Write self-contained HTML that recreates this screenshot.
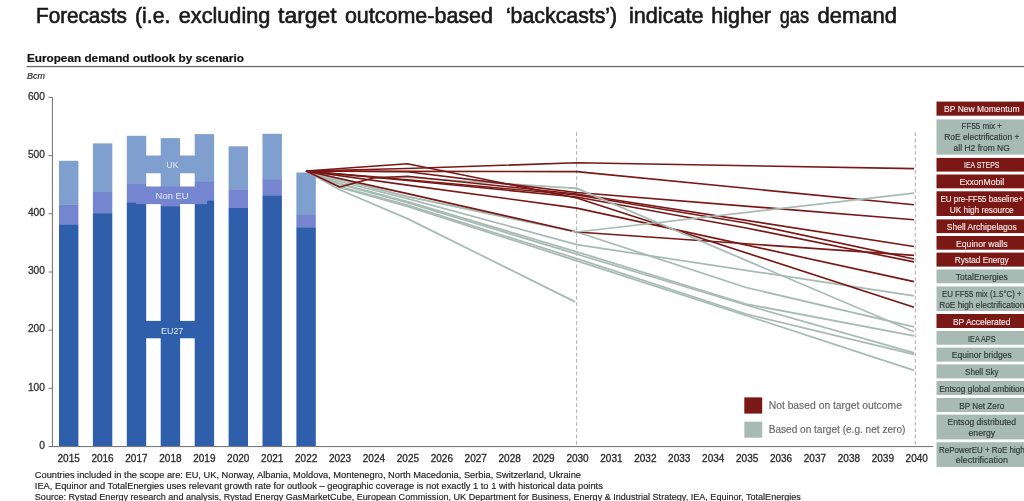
<!DOCTYPE html>
<html lang="en"><head><meta charset="utf-8"><title>European demand outlook by scenario</title>
<style>html,body{margin:0;padding:0;background:#fff;}body{width:1024px;height:501px;overflow:hidden;}svg{display:block;font-family:"Liberation Sans", sans-serif;}.yl{font-size:10px;fill:#333;stroke:#333;stroke-width:0.3px;}.xl{font-size:10.1px;fill:#2b2b2b;stroke:#2b2b2b;stroke-width:0.3px;}.bx{font-size:8.7px;}.ft{font-size:8.6px;fill:#1c1c1c;stroke:#1c1c1c;stroke-width:0.15px;}.lg{font-size:10px;fill:#666;stroke:#666;stroke-width:0.15px;}.bl{font-size:9.5px;fill:#e4eaf4;}</style></head><body>
<svg width="1024" height="501" viewBox="0 0 1024 501">
<rect x="0" y="0" width="1024" height="501" fill="#ffffff"/>
<g font-size="22.2" fill="#1a1a1a" stroke="#1a1a1a" stroke-width="0.65">
<text x="36.0" y="22.6" textLength="90.8" lengthAdjust="spacingAndGlyphs">Forecasts</text>
<text x="135.0" y="22.6" textLength="35.3" lengthAdjust="spacingAndGlyphs">(i.e.</text>
<text x="178.8" y="22.6" textLength="91.5" lengthAdjust="spacingAndGlyphs">excluding</text>
<text x="278.1" y="22.6" textLength="58.6" lengthAdjust="spacingAndGlyphs">target</text>
<text x="344.9" y="22.6" textLength="148.1" lengthAdjust="spacingAndGlyphs">outcome-based</text>
<text x="505.9" y="22.6" textLength="111.3" lengthAdjust="spacingAndGlyphs">‘backcasts’)</text>
<text x="629.0" y="22.6" textLength="74.5" lengthAdjust="spacingAndGlyphs">indicate</text>
<text x="711.3" y="22.6" textLength="59.7" lengthAdjust="spacingAndGlyphs">higher</text>
<text x="779.7" y="22.6" textLength="29.3" lengthAdjust="spacingAndGlyphs">gas</text>
<text x="817.6" y="22.6" textLength="79.4" lengthAdjust="spacingAndGlyphs">demand</text>
</g>
<text x="26.9" y="62.2" font-size="11.7" font-weight="bold" fill="#111" stroke="#111" stroke-width="0.2" textLength="217" lengthAdjust="spacingAndGlyphs">European demand outlook by scenario</text>
<rect x="26.5" y="65.9" width="997.5" height="1.3" fill="#6a6a6a"/>
<text x="27" y="78.8" font-size="9.6" font-style="italic" fill="#222" stroke="#222" stroke-width="0.15" textLength="18" lengthAdjust="spacingAndGlyphs">Bcm</text>
<line x1="576.6" y1="132.2" x2="576.6" y2="446" stroke="#999" stroke-width="0.8" stroke-dasharray="3.8 2.5"/>
<line x1="915.3" y1="132.2" x2="915.3" y2="446" stroke="#999" stroke-width="0.8" stroke-dasharray="3.8 2.5"/>
<rect x="59.0" y="160.8" width="19.4" height="43.9" fill="#7f9fcf"/>
<rect x="59.0" y="204.5" width="19.4" height="20.7" fill="#7585d0"/>
<rect x="59.0" y="224.8" width="19.4" height="221.7" fill="#2f5fab"/>
<rect x="92.9" y="143.4" width="19.4" height="48.9" fill="#7f9fcf"/>
<rect x="92.9" y="192.0" width="19.4" height="21.5" fill="#7585d0"/>
<rect x="92.9" y="213.2" width="19.4" height="233.3" fill="#2f5fab"/>
<rect x="126.8" y="135.8" width="19.4" height="48.0" fill="#7f9fcf"/>
<rect x="126.8" y="183.5" width="19.4" height="19.5" fill="#7585d0"/>
<rect x="126.8" y="202.7" width="19.4" height="243.8" fill="#2f5fab"/>
<rect x="160.7" y="138.1" width="19.4" height="48.6" fill="#7f9fcf"/>
<rect x="160.7" y="186.4" width="19.4" height="20.1" fill="#7585d0"/>
<rect x="160.7" y="206.2" width="19.4" height="240.3" fill="#2f5fab"/>
<rect x="194.7" y="134.1" width="19.4" height="48.0" fill="#7f9fcf"/>
<rect x="194.7" y="181.8" width="19.4" height="18.9" fill="#7585d0"/>
<rect x="194.7" y="200.4" width="19.4" height="246.1" fill="#2f5fab"/>
<rect x="228.6" y="146.3" width="19.4" height="43.6" fill="#7f9fcf"/>
<rect x="228.6" y="189.6" width="19.4" height="18.6" fill="#7585d0"/>
<rect x="228.6" y="208.0" width="19.4" height="238.5" fill="#2f5fab"/>
<rect x="262.5" y="133.8" width="19.4" height="45.7" fill="#7f9fcf"/>
<rect x="262.5" y="179.2" width="19.4" height="16.6" fill="#7585d0"/>
<rect x="262.5" y="195.5" width="19.4" height="251.0" fill="#2f5fab"/>
<rect x="296.4" y="172.5" width="19.4" height="42.8" fill="#7f9fcf"/>
<rect x="296.4" y="214.9" width="19.4" height="13.1" fill="#7585d0"/>
<rect x="296.4" y="227.7" width="19.4" height="218.8" fill="#2f5fab"/>
<rect x="145" y="155.5" width="50" height="17.8" fill="#7f9fcf"/>
<rect x="136" y="186.5" width="71.2" height="17.6" fill="#7585d0"/>
<rect x="145" y="320.9" width="50" height="17.4" fill="#2f5fab"/>
<text class="bl" x="166.6" y="167.6" textLength="11.7" lengthAdjust="spacingAndGlyphs">UK</text>
<text class="bl" x="155.6" y="198.5" textLength="33" lengthAdjust="spacingAndGlyphs">Non EU</text>
<text class="bl" x="161" y="333.5" textLength="22.3" lengthAdjust="spacingAndGlyphs">EU27</text>
<g>
<path d="M306.0 171.0 L339.7 189.7 L407.4 218.6 L575.2 301.9" fill="none" stroke="#a7bbb4" stroke-width="1.75" stroke-linejoin="round" stroke-linecap="butt"/>
<path d="M306.0 171.0 L339.7 187.3 L407.4 206.3 L576.8 260.8 L746.1 315.5 L914.0 370.4" fill="none" stroke="#a7bbb4" stroke-width="1.75" stroke-linejoin="round" stroke-linecap="butt"/>
<path d="M306.0 171.0 L339.7 186.6 L407.4 205.2 L576.8 258.6 L746.1 314.0 L914.0 354.4" fill="none" stroke="#a7bbb4" stroke-width="1.75" stroke-linejoin="round" stroke-linecap="butt"/>
<path d="M306.0 171.0 L339.7 184.2 L407.4 202.6 L576.8 254.2 L746.1 305.0 L914.0 352.9" fill="none" stroke="#a7bbb4" stroke-width="1.75" stroke-linejoin="round" stroke-linecap="butt"/>
<path d="M306.0 171.0 L339.7 183.5 L407.4 201.5 L576.8 251.8 L746.1 304.0 L914.0 335.8" fill="none" stroke="#a7bbb4" stroke-width="1.75" stroke-linejoin="round" stroke-linecap="butt"/>
<path d="M306.0 171.0 L339.7 181.5 L407.4 198.6 L576.8 244.6 L914.0 295.8" fill="none" stroke="#a7bbb4" stroke-width="1.75" stroke-linejoin="round" stroke-linecap="butt"/>
<path d="M306.0 171.0 L407.4 196.5 L576.8 232.0 L746.1 287.5 L914.0 326.9" fill="none" stroke="#a7bbb4" stroke-width="1.75" stroke-linejoin="round" stroke-linecap="butt"/>
<path d="M306.0 171.0 L339.7 175.5 L407.4 177.5 L576.8 188.4 L579.8 189.6" fill="none" stroke="#a7bbb4" stroke-width="1.75" stroke-linejoin="round" stroke-linecap="butt"/>
<path d="M306.0 171.0 L407.4 196.5 L576.8 232.0" fill="none" stroke="#a7bbb4" stroke-width="1.75" stroke-linejoin="round" stroke-linecap="butt"/>
<path d="M306.0 171.0 L407.4 193.6 L576.8 232.0 L914.0 255.4" fill="none" stroke="#7a1815" stroke-width="1.65" stroke-linejoin="round" stroke-linecap="butt"/>
<path d="M306.0 171.0 L407.4 185.1 L576.8 208.1 L914.0 281.6" fill="none" stroke="#7a1815" stroke-width="1.65" stroke-linejoin="round" stroke-linecap="butt"/>
<path d="M306.0 171.0 L407.4 163.7 L576.8 198.0 L914.0 307.2" fill="none" stroke="#7a1815" stroke-width="1.65" stroke-linejoin="round" stroke-linecap="butt"/>
<path d="M306.0 171.0 L407.4 180.5 L576.8 197.0 L746.1 228.0 L914.0 261.9" fill="none" stroke="#7a1815" stroke-width="1.65" stroke-linejoin="round" stroke-linecap="butt"/>
<path d="M306.0 171.0 L407.4 179.7 L576.8 195.0 L746.1 223.0 L914.0 259.0" fill="none" stroke="#7a1815" stroke-width="1.65" stroke-linejoin="round" stroke-linecap="butt"/>
<path d="M306.0 171.0 L339.7 187.0 L373.5 178.0 L407.4 176.2 L576.8 194.0 L914.0 246.5" fill="none" stroke="#7a1815" stroke-width="1.65" stroke-linejoin="round" stroke-linecap="butt"/>
<path d="M306.0 171.0 L407.4 171.7 L576.8 192.5 L914.0 219.7" fill="none" stroke="#7a1815" stroke-width="1.65" stroke-linejoin="round" stroke-linecap="butt"/>
<path d="M306.0 171.0 L407.4 171.4 L576.8 171.6 L914.0 204.8" fill="none" stroke="#7a1815" stroke-width="1.65" stroke-linejoin="round" stroke-linecap="butt"/>
<path d="M306.0 171.0 L407.4 168.5 L576.8 162.8 L914.0 168.6" fill="none" stroke="#7a1815" stroke-width="1.65" stroke-linejoin="round" stroke-linecap="butt"/>
<path d="M568.8 187.9 L576.8 188.4 L914.0 331.7" fill="none" stroke="#a7bbb4" stroke-width="1.75" stroke-linejoin="round" stroke-linecap="butt"/>
<path d="M571.8 231.0 L576.8 232.0 L914.0 193.1" fill="none" stroke="#a7bbb4" stroke-width="1.75" stroke-linejoin="round" stroke-linecap="butt"/>
</g>
<rect x="51.9" y="97" width="1.1" height="350" fill="#7a7a7a"/>
<rect x="51.9" y="446" width="881.3" height="1.1" fill="#7a7a7a"/>
<rect x="48.5" y="446.0" width="4" height="1" fill="#7a7a7a"/>
<text class="yl" x="39.2" y="448.8" textLength="5.7" lengthAdjust="spacingAndGlyphs">0</text>
<rect x="48.5" y="387.8" width="4" height="1" fill="#7a7a7a"/>
<text class="yl" x="27.9" y="390.6" textLength="17.0" lengthAdjust="spacingAndGlyphs">100</text>
<rect x="48.5" y="329.6" width="4" height="1" fill="#7a7a7a"/>
<text class="yl" x="27.9" y="332.4" textLength="17.0" lengthAdjust="spacingAndGlyphs">200</text>
<rect x="48.5" y="271.5" width="4" height="1" fill="#7a7a7a"/>
<text class="yl" x="27.9" y="274.3" textLength="17.0" lengthAdjust="spacingAndGlyphs">300</text>
<rect x="48.5" y="213.3" width="4" height="1" fill="#7a7a7a"/>
<text class="yl" x="27.9" y="216.1" textLength="17.0" lengthAdjust="spacingAndGlyphs">400</text>
<rect x="48.5" y="155.1" width="4" height="1" fill="#7a7a7a"/>
<text class="yl" x="27.9" y="157.9" textLength="17.0" lengthAdjust="spacingAndGlyphs">500</text>
<rect x="48.5" y="96.9" width="4" height="1" fill="#7a7a7a"/>
<text class="yl" x="27.9" y="99.7" textLength="17.0" lengthAdjust="spacingAndGlyphs">600</text>
<text class="xl" x="57.5" y="461.6" textLength="22.3" lengthAdjust="spacingAndGlyphs">2015</text>
<text class="xl" x="91.4" y="461.6" textLength="22.3" lengthAdjust="spacingAndGlyphs">2016</text>
<text class="xl" x="125.3" y="461.6" textLength="22.3" lengthAdjust="spacingAndGlyphs">2017</text>
<text class="xl" x="159.3" y="461.6" textLength="22.3" lengthAdjust="spacingAndGlyphs">2018</text>
<text class="xl" x="193.2" y="461.6" textLength="22.3" lengthAdjust="spacingAndGlyphs">2019</text>
<text class="xl" x="227.1" y="461.6" textLength="22.3" lengthAdjust="spacingAndGlyphs">2020</text>
<text class="xl" x="261.1" y="461.6" textLength="22.3" lengthAdjust="spacingAndGlyphs">2021</text>
<text class="xl" x="295.0" y="461.6" textLength="22.3" lengthAdjust="spacingAndGlyphs">2022</text>
<text class="xl" x="328.9" y="461.6" textLength="22.3" lengthAdjust="spacingAndGlyphs">2023</text>
<text class="xl" x="362.8" y="461.6" textLength="22.3" lengthAdjust="spacingAndGlyphs">2024</text>
<text class="xl" x="396.8" y="461.6" textLength="22.3" lengthAdjust="spacingAndGlyphs">2025</text>
<text class="xl" x="430.7" y="461.6" textLength="22.3" lengthAdjust="spacingAndGlyphs">2026</text>
<text class="xl" x="464.6" y="461.6" textLength="22.3" lengthAdjust="spacingAndGlyphs">2027</text>
<text class="xl" x="498.5" y="461.6" textLength="22.3" lengthAdjust="spacingAndGlyphs">2028</text>
<text class="xl" x="532.4" y="461.6" textLength="22.3" lengthAdjust="spacingAndGlyphs">2029</text>
<text class="xl" x="566.4" y="461.6" textLength="22.3" lengthAdjust="spacingAndGlyphs">2030</text>
<text class="xl" x="600.3" y="461.6" textLength="22.3" lengthAdjust="spacingAndGlyphs">2031</text>
<text class="xl" x="634.2" y="461.6" textLength="22.3" lengthAdjust="spacingAndGlyphs">2032</text>
<text class="xl" x="668.1" y="461.6" textLength="22.3" lengthAdjust="spacingAndGlyphs">2033</text>
<text class="xl" x="702.1" y="461.6" textLength="22.3" lengthAdjust="spacingAndGlyphs">2034</text>
<text class="xl" x="736.0" y="461.6" textLength="22.3" lengthAdjust="spacingAndGlyphs">2035</text>
<text class="xl" x="769.9" y="461.6" textLength="22.3" lengthAdjust="spacingAndGlyphs">2036</text>
<text class="xl" x="803.8" y="461.6" textLength="22.3" lengthAdjust="spacingAndGlyphs">2037</text>
<text class="xl" x="837.8" y="461.6" textLength="22.3" lengthAdjust="spacingAndGlyphs">2038</text>
<text class="xl" x="871.7" y="461.6" textLength="22.3" lengthAdjust="spacingAndGlyphs">2039</text>
<text class="xl" x="905.6" y="461.6" textLength="22.3" lengthAdjust="spacingAndGlyphs">2040</text>
<rect x="744.3" y="397.4" width="17.9" height="16.2" fill="#7a1815"/>
<rect x="744.3" y="421.7" width="17.9" height="16" fill="#a7bbb4"/>
<text class="lg" x="768.7" y="408.7" textLength="133.2" lengthAdjust="spacingAndGlyphs">Not based on target outcome</text>
<text class="lg" x="768.7" y="432.8" textLength="136.7" lengthAdjust="spacingAndGlyphs">Based on target (e.g. net zero)</text>
<rect x="936.5" y="101.6" width="91.5" height="14.1" fill="#7a1815"/>
<text class="bx" x="944.1" y="112.4" fill="#f1e9e7" stroke="#f1e9e7" stroke-width="0.15" textLength="75.4" lengthAdjust="spacingAndGlyphs">BP New Momentum</text>
<rect x="936.5" y="119.4" width="91.5" height="35.2" fill="#a7bbb4"/>
<text class="bx" x="961.6" y="129.2" fill="#2f3635" stroke="#2f3635" stroke-width="0.15" textLength="40.3" lengthAdjust="spacingAndGlyphs">FF55 mix +</text>
<text class="bx" x="944.2" y="140.0" fill="#2f3635" stroke="#2f3635" stroke-width="0.15" textLength="75.2" lengthAdjust="spacingAndGlyphs">RoE electrification +</text>
<text class="bx" x="953.6" y="150.8" fill="#2f3635" stroke="#2f3635" stroke-width="0.15" textLength="56.3" lengthAdjust="spacingAndGlyphs">all H2 from NG</text>
<rect x="936.5" y="157.9" width="91.5" height="13.7" fill="#7a1815"/>
<text class="bx" x="964.0" y="168.4" fill="#f1e9e7" stroke="#f1e9e7" stroke-width="0.15" textLength="35.5" lengthAdjust="spacingAndGlyphs">IEA STEPS</text>
<rect x="936.5" y="174.5" width="91.5" height="13.8" fill="#7a1815"/>
<text class="bx" x="959.4" y="185.1" fill="#f1e9e7" stroke="#f1e9e7" stroke-width="0.15" textLength="44.7" lengthAdjust="spacingAndGlyphs">ExxonMobil</text>
<rect x="936.5" y="191.3" width="91.5" height="24.7" fill="#7a1815"/>
<text class="bx" x="940.4" y="201.7" fill="#f1e9e7" stroke="#f1e9e7" stroke-width="0.15" textLength="82.8" lengthAdjust="spacingAndGlyphs">EU pre-FF55 baseline+</text>
<text class="bx" x="949.8" y="212.5" fill="#f1e9e7" stroke="#f1e9e7" stroke-width="0.15" textLength="63.9" lengthAdjust="spacingAndGlyphs">UK high resource</text>
<rect x="936.5" y="219.4" width="91.5" height="13.7" fill="#7a1815"/>
<text class="bx" x="946.8" y="229.9" fill="#f1e9e7" stroke="#f1e9e7" stroke-width="0.15" textLength="69.9" lengthAdjust="spacingAndGlyphs">Shell Archipelagos</text>
<rect x="936.5" y="236.0" width="91.5" height="13.7" fill="#7a1815"/>
<text class="bx" x="956.0" y="246.5" fill="#f1e9e7" stroke="#f1e9e7" stroke-width="0.15" textLength="51.5" lengthAdjust="spacingAndGlyphs">Equinor walls</text>
<rect x="936.5" y="252.6" width="91.5" height="14.0" fill="#7a1815"/>
<text class="bx" x="954.8" y="263.3" fill="#f1e9e7" stroke="#f1e9e7" stroke-width="0.15" textLength="53.9" lengthAdjust="spacingAndGlyphs">Rystad Energy</text>
<rect x="936.5" y="269.4" width="91.5" height="13.9" fill="#a7bbb4"/>
<text class="bx" x="955.8" y="280.1" fill="#2f3635" stroke="#2f3635" stroke-width="0.15" textLength="51.9" lengthAdjust="spacingAndGlyphs">TotalEnergies</text>
<rect x="936.5" y="286.4" width="91.5" height="24.6" fill="#a7bbb4"/>
<text class="bx" x="941.9" y="296.7" fill="#2f3635" stroke="#2f3635" stroke-width="0.15" textLength="79.8" lengthAdjust="spacingAndGlyphs">EU FF55 mix (1.5°C) +</text>
<text class="bx" x="939.2" y="307.5" fill="#2f3635" stroke="#2f3635" stroke-width="0.15" textLength="85.2" lengthAdjust="spacingAndGlyphs">RoE high electrification</text>
<rect x="936.5" y="314.0" width="91.5" height="14.0" fill="#7a1815"/>
<text class="bx" x="953.0" y="324.7" fill="#f1e9e7" stroke="#f1e9e7" stroke-width="0.15" textLength="57.5" lengthAdjust="spacingAndGlyphs">BP Accelerated</text>
<rect x="936.5" y="331.0" width="91.5" height="13.7" fill="#a7bbb4"/>
<text class="bx" x="968.0" y="341.6" fill="#2f3635" stroke="#2f3635" stroke-width="0.15" textLength="27.6" lengthAdjust="spacingAndGlyphs">IEA APS</text>
<rect x="936.5" y="347.6" width="91.5" height="14.0" fill="#a7bbb4"/>
<text class="bx" x="951.8" y="358.3" fill="#2f3635" stroke="#2f3635" stroke-width="0.15" textLength="59.9" lengthAdjust="spacingAndGlyphs">Equinor bridges</text>
<rect x="936.5" y="364.4" width="91.5" height="14.0" fill="#a7bbb4"/>
<text class="bx" x="965.1" y="375.1" fill="#2f3635" stroke="#2f3635" stroke-width="0.15" textLength="33.4" lengthAdjust="spacingAndGlyphs">Shell Sky</text>
<rect x="936.5" y="381.0" width="91.5" height="14.0" fill="#a7bbb4"/>
<text class="bx" x="939.2" y="391.7" fill="#2f3635" stroke="#2f3635" stroke-width="0.15" textLength="85.2" lengthAdjust="spacingAndGlyphs">Entsog global ambition</text>
<rect x="936.5" y="398.0" width="91.5" height="14.0" fill="#a7bbb4"/>
<text class="bx" x="959.3" y="408.7" fill="#2f3635" stroke="#2f3635" stroke-width="0.15" textLength="44.9" lengthAdjust="spacingAndGlyphs">BP Net Zero</text>
<rect x="936.5" y="414.6" width="91.5" height="24.8" fill="#a7bbb4"/>
<text class="bx" x="947.5" y="425.0" fill="#2f3635" stroke="#2f3635" stroke-width="0.15" textLength="68.6" lengthAdjust="spacingAndGlyphs">Entsog distributed</text>
<text class="bx" x="968.5" y="435.8" fill="#2f3635" stroke="#2f3635" stroke-width="0.15" textLength="26.6" lengthAdjust="spacingAndGlyphs">energy</text>
<rect x="936.5" y="442.2" width="91.5" height="24.8" fill="#a7bbb4"/>
<text class="bx" x="939.0" y="452.6" fill="#2f3635" stroke="#2f3635" stroke-width="0.15" textLength="85.6" lengthAdjust="spacingAndGlyphs">RePowerEU + RoE high</text>
<text class="bx" x="955.8" y="463.4" fill="#2f3635" stroke="#2f3635" stroke-width="0.15" textLength="52.1" lengthAdjust="spacingAndGlyphs">electrification</text>
<text class="ft" x="34.8" y="478.1" textLength="546.2" lengthAdjust="spacingAndGlyphs">Countries included in the scope are: EU, UK, Norway, Albania, Moldova, Montenegro, North Macedonia, Serbia, Switzerland, Ukraine</text>
<text class="ft" x="34.8" y="489.0" textLength="568.0" lengthAdjust="spacingAndGlyphs">IEA, Equinor and TotalEnergies uses relevant growth rate for outlook – geographic coverage is not exactly 1 to 1 with historical data points</text>
<text class="ft" x="34.8" y="499.7" textLength="766.1" lengthAdjust="spacingAndGlyphs">Source: Rystad Energy research and analysis, Rystad Energy GasMarketCube, European Commission, UK Department for Business, Energy &amp; Industrial Strategy, IEA, Equinor, TotalEnergies</text>
</svg></body></html>
